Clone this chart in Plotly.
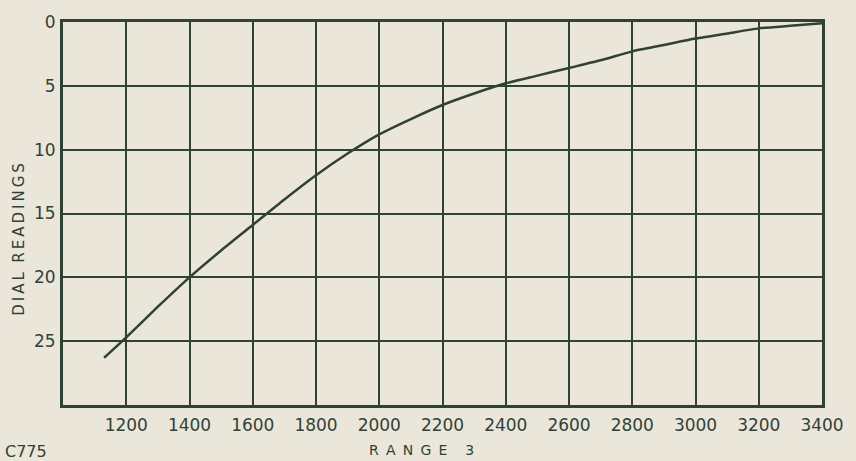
import plotly.graph_objects as go

# Data
range_vals = [1130, 1200, 1300, 1400, 1500, 1600, 1700, 1800, 1900, 2000, 2100, 2200,
              2300, 2400, 2500, 2600, 2700, 2800, 2900, 3000, 3100, 3200, 3300, 3400]
dial_vals = [26.3, 24.7, 22.3, 20.0, 17.9, 15.9, 13.9, 12.0, 10.3, 8.8, 7.6, 6.5,
             5.6, 4.8, 4.2, 3.6, 3.0, 2.3, 1.8, 1.3, 0.9, 0.5, 0.3, 0.1]

x_ticks = [1200, 1400, 1600, 1800, 2000, 2200, 2400, 2600, 2800, 3000, 3200, 3400]
y_ticks = [0, 5, 10, 15, 20, 25]

ink = "#2f4236"
paper = "#ebe6da"
font_family = "'DejaVu Sans', sans-serif"

T = "\u2009"      # thin space between letters
N = "\u00a0"      # no-break space

fig = go.Figure()
fig.add_trace(go.Scatter(
    x=range_vals, y=dial_vals, mode="lines",
    line=dict(color=ink, width=2.5, shape="spline", smoothing=0.6),
    showlegend=False, hoverinfo="skip",
))

fig.update_layout(
    width=856, height=461,
    margin=dict(l=63, r=27, t=20, b=56),
    paper_bgcolor=paper, plot_bgcolor=paper,
    font=dict(family=font_family, color=ink, size=15),
    xaxis=dict(
        range=[1000, 3400], tickmode="array", tickvals=x_ticks,
        showgrid=True, gridcolor=ink, gridwidth=2,
        showline=True, linecolor=ink, linewidth=3, mirror=True,
        ticks="outside", ticklen=3, tickcolor="rgba(0,0,0,0)",
        tickfont=dict(size=17, color=ink), zeroline=False,
    ),
    yaxis=dict(
        range=[30, 0], tickmode="array", tickvals=y_ticks + [30],
        ticktext=[str(v) for v in y_ticks] + [""],
        showgrid=True, gridcolor=ink, gridwidth=2,
        showline=True, linecolor=ink, linewidth=3, mirror=True,
        ticks="outside", ticklen=1, tickcolor="rgba(0,0,0,0)",
        tickfont=dict(size=17, color=ink), zeroline=False,
    ),
    annotations=[
        dict(text=T.join("DIAL") + N + N + T.join("READINGS"),
             xref="paper", yref="paper", x=-0.058, y=0.434, xanchor="center", yanchor="middle",
             textangle=-90, showarrow=False, font=dict(size=15, color=ink)),
        dict(text=(N + T).join("RANGE") + N * 4 + "3",
             xref="paper", yref="paper", x=0.472, y=-0.092, xanchor="center", yanchor="top",
             showarrow=False, font=dict(size=14, color=ink)),
        dict(text="C775", xref="paper", yref="paper", x=-0.079, y=-0.092,
             xanchor="left", yanchor="top", showarrow=False, font=dict(size=16, color=ink)),
    ],
)

fig.write_html(
    "out.html",
    config={"displayModeBar": False},
    post_script="document.body.style.margin='0';document.body.style.overflow='hidden';",
)
